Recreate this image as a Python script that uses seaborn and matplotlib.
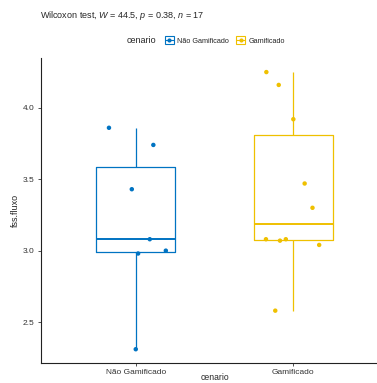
import numpy as np
import pandas as pd
import matplotlib.pyplot as plt
import seaborn as sns
from matplotlib.patches import Patch
from matplotlib.lines import Line2D

# valores
grupos = ["Não Gamificado", "Gamificado"]
nao_gamificado = [3.86, 3.74, 3.43, 3.08, 3.00, 2.98, 2.31]
gamificado = [4.25, 4.16, 3.92, 3.47, 3.30, 3.08, 3.08, 3.07, 3.04, 2.58]
cores = ["#0073C2", "#EFC000"]
titulo = r"Wilcoxon test, $W$ = 44.5, $p$ = 0.38, $n$ = 17"

df = pd.DataFrame({
    "cenario": [grupos[0]] * len(nao_gamificado) + [grupos[1]] * len(gamificado),
    "fss.fluxo": nao_gamificado + gamificado,
})

sns.set_style("ticks")
plt.rcParams['font.family'] = ['Liberation Sans', 'DejaVu Sans']
plt.rcParams['mathtext.fontset'] = 'custom'
plt.rcParams['mathtext.it'] = 'Liberation Sans:italic'
plt.rcParams['mathtext.rm'] = 'Liberation Sans'

fig = plt.figure(figsize=(3.77, 3.83), dpi=100)
ax = fig.add_axes([0.109, 0.052, 0.92, 0.796])

sns.boxplot(data=df, x="cenario", y="fss.fluxo", hue="cenario", order=grupos,
            hue_order=grupos, palette=cores, fill=False, width=0.5,
            showcaps=False, showfliers=False, linewidth=0.9, legend=False,
            medianprops={'linewidth': 1.4}, ax=ax)

np.random.seed(7)
sns.stripplot(data=df, x="cenario", y="fss.fluxo", hue="cenario", order=grupos,
              hue_order=grupos, palette=cores, jitter=0.2, size=3.2,
              legend=False, ax=ax)

ax.set_xlim(-0.6, 1.6)
ax.set_ylim(2.213, 4.347)
ax.set_yticks([2.5, 3.0, 3.5, 4.0])
ax.set_yticklabels(["2.5", "3.0", "3.5", "4.0"])
ax.tick_params(labelsize=6, colors='#333333', length=2.5, width=0.6, pad=2)
for s in ['left', 'bottom']:
    ax.spines[s].set_color('#222222')
    ax.spines[s].set_linewidth(0.8)
sns.despine(ax=ax)
ax.set_ylabel("fss.fluxo", fontsize=6.5, labelpad=2)
ax.set_xlabel("cenario", fontsize=6.2, va='bottom')
ax.xaxis.set_label_coords(0.5, -18.5 / 305)

fig.text(40 / 377, 1 - 16 / 383, titulo, fontsize=6.5, va='center', ha='left')

# legenda no topo, à moda do ggplot
y_leg = 1 - 40.5 / 383
fig.text(127 / 377, y_leg, "cenario", fontsize=6.5, va='center', ha='left')
handles = [(Patch(facecolor='white', edgecolor=c, linewidth=0.8),
            Line2D([], [], color=c, marker='o', markersize=2, linewidth=0.8))
           for c in cores]
fig.legend(handles=handles, labels=grupos, ncol=2, loc='center left',
           bbox_to_anchor=(165 / 377, y_leg), frameon=False, fontsize=5.2,
           handlelength=1.2, handleheight=1.2, handletextpad=0.5,
           columnspacing=1.0, borderaxespad=0, borderpad=0)

fig.savefig('out.png', dpi=100)
